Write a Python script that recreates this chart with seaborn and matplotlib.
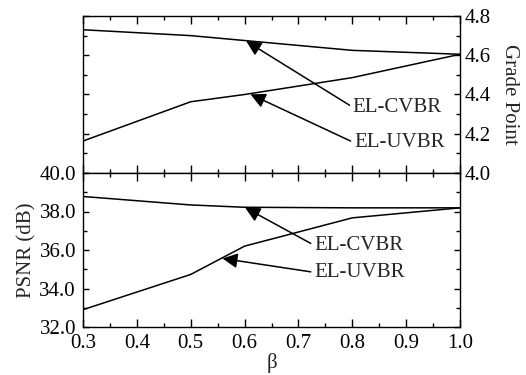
import matplotlib
matplotlib.use("Agg")
import matplotlib.pyplot as plt
from matplotlib.ticker import MultipleLocator, FormatStrFormatter
import seaborn as sns
import pandas as pd

# Scaling factor beta and the measured results for the two enhancement-layer schemes
beta = [0.3, 0.5, 0.6, 0.8, 1.0]
grade_cvbr = [4.73, 4.70, 4.675, 4.625, 4.605]
grade_uvbr = [4.163, 4.363, 4.40, 4.486, 4.605]
psnr_cvbr = [38.78, 38.34, 38.22, 38.19, 38.19]
psnr_uvbr = [32.9, 34.73, 36.2, 37.67, 38.19]
series_names = ["EL-CVBR", "EL-UVBR"]

sns.set_style("ticks")
plt.rcParams["font.family"] = ["Liberation Serif", "DejaVu Serif"]
plt.rcParams["mathtext.fontset"] = "stix"

FS = 15
fig = plt.figure(figsize=(5.26, 3.75), dpi=100)
ax_top = fig.add_axes([83 / 526, 1 - 173 / 375, 377 / 526, 157 / 375])
ax_bot = fig.add_axes([83 / 526, 1 - 327 / 375, 377 / 526, 154 / 375])

grade_df = pd.DataFrame({"beta": beta * 2,
                         "value": grade_cvbr + grade_uvbr,
                         "scheme": [series_names[0]] * len(beta) + [series_names[1]] * len(beta)})
psnr_df = pd.DataFrame({"beta": beta * 2,
                        "value": psnr_cvbr + psnr_uvbr,
                        "scheme": [series_names[0]] * len(beta) + [series_names[1]] * len(beta)})

for ax, df in ((ax_top, grade_df), (ax_bot, psnr_df)):
    sns.lineplot(data=df, x="beta", y="value", hue="scheme", units="scheme",
                 estimator=None, palette=["black", "black"], linewidth=1.1,
                 legend=False, ax=ax)
    ax.set_xlim(0.3, 1.0)
    ax.xaxis.set_major_locator(MultipleLocator(0.1))
    ax.xaxis.set_minor_locator(MultipleLocator(0.05))
    for s in ax.spines.values():
        s.set_visible(True)
        s.set_linewidth(1.0)
        s.set_color("black")
    ax.tick_params(which="both", direction="in", top=True, bottom=True,
                   left=True, right=True, color="black", width=1.0,
                   labelsize=FS, labelcolor="black")
    ax.tick_params(axis="x", which="major", length=6)
    ax.tick_params(axis="x", which="minor", length=3)
    ax.tick_params(axis="y", which="major", length=4)
    ax.tick_params(axis="y", which="minor", length=3)
    ax.set_facecolor("white")

# Upper panel: subjective grade, scale on the right
ax_top.set_ylim(4.0, 4.8)
ax_top.yaxis.set_major_locator(MultipleLocator(0.2))
ax_top.yaxis.set_minor_locator(MultipleLocator(0.1))
ax_top.yaxis.set_major_formatter(FormatStrFormatter("%.1f"))
ax_top.tick_params(labelleft=False, labelright=True, labelbottom=False, pad=3)
ax_top.set_xlabel("")
ax_top.yaxis.set_label_position("right")
ax_top.set_ylabel("Grade Point", fontsize=FS, rotation=270, va="bottom", labelpad=7)

# Lower panel: objective quality, scale on the left
ax_bot.set_ylim(32.0, 40.0)
ax_bot.yaxis.set_major_locator(MultipleLocator(2.0))
ax_bot.yaxis.set_minor_locator(MultipleLocator(1.0))
ax_bot.yaxis.set_major_formatter(FormatStrFormatter("%.1f"))
ax_bot.xaxis.set_major_formatter(FormatStrFormatter("%.1f"))
ax_bot.tick_params(labelleft=True, labelright=False, labelbottom=True)
ax_bot.tick_params(axis="x", pad=5)
ax_bot.tick_params(axis="y", pad=5)
ax_bot.set_xlabel("β", fontsize=FS, labelpad=0)
ax_bot.set_ylabel("PSNR (dB)", fontsize=FS, labelpad=2)

arrow = dict(arrowstyle="-|>,head_length=0.6,head_width=0.3", color="black",
             lw=1.1, shrinkA=0, shrinkB=0, relpos=(0, 0.5))

ax_top.annotate(series_names[0], xy=(0.603, 4.672), xytext=(0.801, 4.335),
                fontsize=FS, ha="left", va="center", arrowprops=arrow)
ax_top.annotate(series_names[1], xy=(0.611, 4.401), xytext=(0.803, 4.155),
                fontsize=FS, ha="left", va="center", arrowprops=arrow)
ax_bot.annotate(series_names[0], xy=(0.601, 38.2), xytext=(0.729, 36.25),
                fontsize=FS, ha="left", va="center", arrowprops=arrow)
ax_bot.annotate(series_names[1], xy=(0.559, 35.56), xytext=(0.729, 34.84),
                fontsize=FS, ha="left", va="center", arrowprops=arrow)

fig.savefig("out.png", dpi=100, facecolor="white")
